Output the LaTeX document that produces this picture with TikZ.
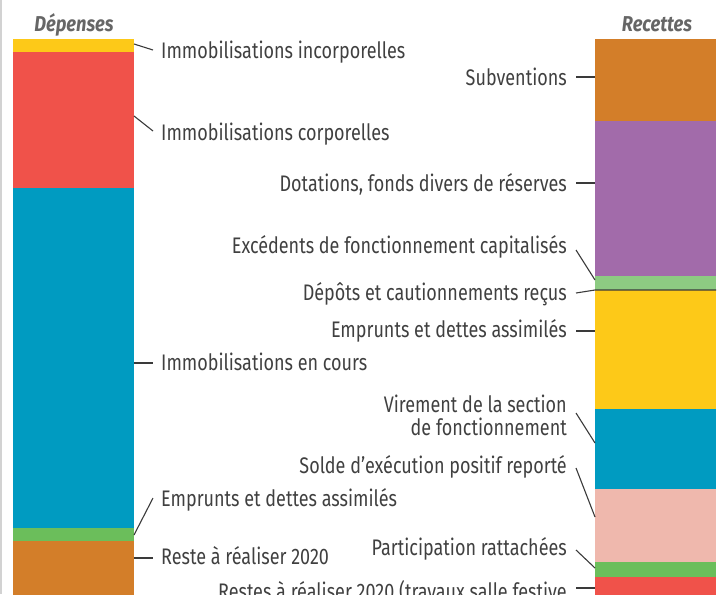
\documentclass[tikz,border=0pt]{standalone}
\usepackage{fontspec}
\setmainfont{Fira Sans}[FakeStretch=0.8]
\newfontfamily\titlefont{Fira Sans}[FakeStretch=0.85]
\definecolor{cyel}{HTML}{FDC918}
\definecolor{cred}{HTML}{F0524A}
\definecolor{cblue}{HTML}{009BC1}
\definecolor{cgreen}{HTML}{6BBE5B}
\definecolor{clgreen}{HTML}{8DCB82}
\definecolor{corange}{HTML}{D37E29}
\definecolor{cpurple}{HTML}{A26BAA}
\definecolor{cpink}{HTML}{EFB8AD}
\definecolor{ctext}{HTML}{404040}
\definecolor{cline}{HTML}{3A3A3A}
\definecolor{ctitle}{HTML}{666666}
\begin{document}
\begin{tikzpicture}[x=1pt,y=-1pt,
  lbl/.style={font=\fontsize{22.5}{23}\selectfont, text=ctext, inner sep=0pt},
  lleft/.style={lbl, anchor=base west},
  lright/.style={lbl, anchor=base east, align=right},
  ttl/.style={font=\titlefont\fontsize{21.5}{23}\selectfont\bfseries\itshape, text=ctitle, inner sep=0pt, anchor=base},
  lead/.style={draw=cline, line width=1.1pt}]
\useasboundingbox (0,0) rectangle (727,594);
\clip (0,0) rectangle (727,594);
\draw[gray!35, line width=1.5pt] (0.8,0) -- (0.8,594);
% left bar
\fill[cyel] (13,39) rectangle (134,52);
\fill[cred] (13,52) rectangle (134,188);
\fill[cblue] (13,188) rectangle (134,528);
\fill[cgreen] (13,528) rectangle (134,541);
\fill[corange] (13,541) rectangle (134,600);
% right bar
\fill[corange] (595,39) rectangle (716,121);
\fill[cpurple] (595,121) rectangle (716,276);
\fill[clgreen] (595,276) rectangle (716,289.5);
\fill[cyel] (595,289.5) rectangle (716,409);
\fill[cblue] (595,409) rectangle (716,489);
\fill[cpink] (595,489) rectangle (716,562);
\fill[cgreen] (595,562) rectangle (716,577);
\fill[cred] (595,577) rectangle (716,600);
% titles
\node[ttl] (tdep) at (74,32) {Dépenses};
\node[ttl] (trec) at (657,32) {Recettes};
% left labels
\node[lleft] (l1) at (161,58) {Immobilisations incorporelles};
\node[lleft] (l2) at (161,140) {Immobilisations corporelles};
\node[lleft] (l3) at (161,370) {Immobilisations en cours};
\node[lleft] (l4) at (161,506) {Emprunts et dettes assimilés};
\node[lleft] (l5) at (161,564) {Reste à réaliser 2020};
\coordinate (a1) at (134,44);
\coordinate (a2) at (134,116);
\coordinate (a3) at (134,363);
\coordinate (a4) at (134,535);
\coordinate (a5) at (134,558);
\draw[lead] (a1) -- (153,50);
\draw[lead] (a2) -- (153,131);
\draw[lead] (a3) -- (153,363);
\draw[lead] (a4) -- (153,498);
\draw[lead] (a5) -- (153,558);
% right labels
\node[lright] (r1) at (567,85) {Subventions};
\node[lright] (r2) at (567,191) {Dotations, fonds divers de réserves};
\node[lright] (r3) at (567,253) {Excédents de fonctionnement capitalisés};
\node[lright] (r4) at (567,300) {Dépôts et cautionnements reçus};
\node[lright] (r5) at (567,337) {Emprunts et dettes assimilés};
\node[lright] (r6) at (567,435) {Virement de la section\\de fonctionnement};
\node[lright] (r7) at (567,473) {Solde d’exécution positif reporté};
\node[lright] (r8) at (567,555) {Participation rattachées};
\node[lright] (r9) at (567,599) {Restes à réaliser 2020 (travaux salle festive};
\coordinate (b1) at (595,77);
\coordinate (b2) at (595,183);
\coordinate (b3) at (595,280);
\coordinate (b4) at (595,290);
\coordinate (b4e) at (716,290);
\coordinate (b5) at (595,331);
\coordinate (b6) at (595,443);
\coordinate (b7) at (595,517);
\coordinate (b8) at (595,568);
\coordinate (b9) at (595,588);
\draw[lead] (576,77) -- (b1);
\draw[lead] (576,183) -- (b2);
\draw[lead] (576,250) -- (b3);
\draw[lead] (576,293) -- (b4) -- (b4e);
\draw[lead] (576,331) -- (b5);
\draw[lead] (576,413) -- (b6);
\draw[lead] (576,468) -- (b7);
\draw[lead] (576,550) -- (b8);
\draw[lead] (576,588) -- (b9);
\end{tikzpicture}
\end{document}
